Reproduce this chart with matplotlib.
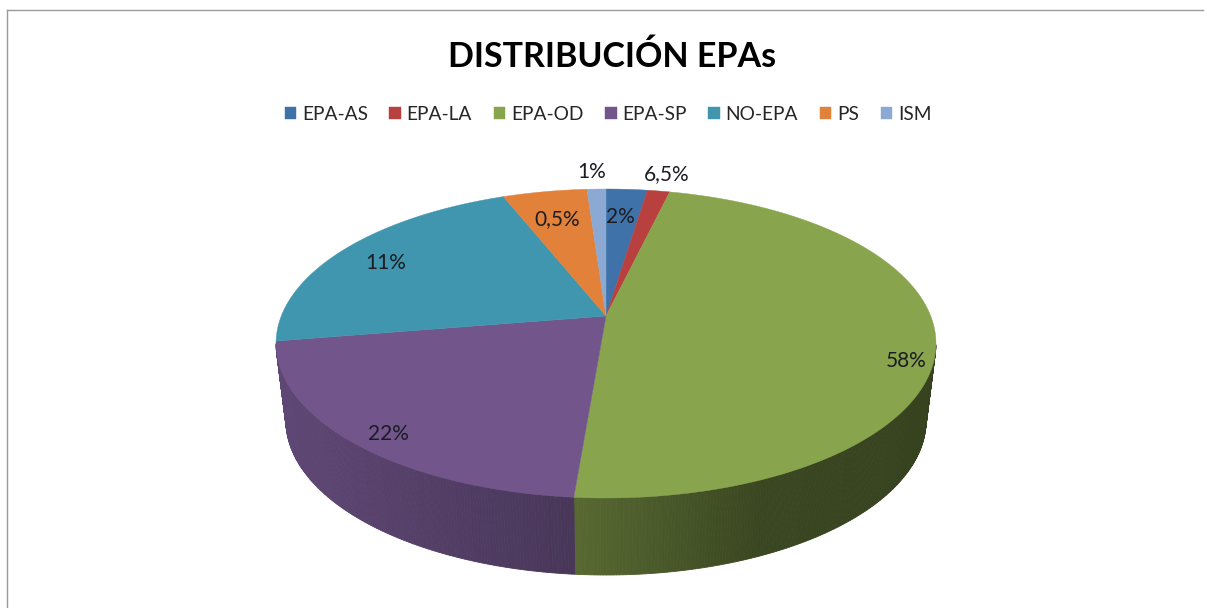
from matplotlib import pyplot as plt
import numpy as np

categories = ['EPA-AS', 'EPA-LA', 'EPA-OD', 'EPA-SP', 'NO-EPA', 'PS', 'ISM']
slice_values = [2.4, 1.3, 47.6, 21.1, 21.6, 4.9, 1.1]
value_labels = ['2%', '6,5%', '58%', '22%', '11%', '0,5%', '1%']
colors = ['#3f72a8', '#b8403e', '#88a44d', '#71558b', '#3f96ae', '#e2813a', '#8ba9d2']

# donde va cada etiqueta (pixeles)
label_pos = [(620, 217), (667, 174), (906, 361), (388, 434), (386, 263), (557, 219), (592, 172)]

plt.rcParams['font.family'] = ['Lato', 'DejaVu Sans']

W, H_IMG = 1207, 608
fig = plt.figure(figsize=(W / 100, H_IMG / 100), dpi=100)
ax = fig.add_axes([0, 0, 1, 1])
ax.set_xlim(0, W)
ax.set_ylim(H_IMG, 0)
ax.axis('off')

# circulo -> elipse con perspectiva, el vertice queda por encima del centro
CX, CY = 606, 316
R, HH, K = 324.7, 149.6, 0.178
DEPTH = 77
BOTTOM_SCALE = 0.97


def project(theta, scale=1.0, dy=0.0):
    # theta en radianes, sentido horario desde las 12
    x = np.sin(theta)
    y = np.cos(theta)
    w = 1 + K * y
    return CX + scale * R * x / w, CY + dy - HH * y / w


def shade(color, f):
    c = np.array(plt.matplotlib.colors.to_rgb(color))
    return tuple(c * f)


edges = np.concatenate([[0], np.cumsum(slice_values)]) / np.sum(slice_values) * 2 * np.pi

# pared lateral, por tiras para el degradado
for i in range(len(slice_values)):
    th = np.linspace(edges[i], edges[i + 1], max(int((edges[i + 1] - edges[i]) * 120), 2))
    for a, b in zip(th[:-1], th[1:]):
        if np.cos(a) > -0.18:
            continue
        x1, y1 = project(a)
        x2, y2 = project(b)
        x3, y3 = project(b, BOTTOM_SCALE, DEPTH)
        x4, y4 = project(a, BOTTOM_SCALE, DEPTH)
        f = np.interp((x1 + x2) / 2, [276, 576, 760, 936], [0.84, 0.64, 0.43, 0.40])
        col = shade(colors[i], f)
        ax.fill([x1, x2, x3, x4], [y1, y2, y3, y4], color=col, lw=0.6)

# cara superior
handles = []
for i in range(len(slice_values)):
    th = np.linspace(edges[i], edges[i + 1], 200)
    px, py = project(th)
    patch = ax.fill(np.r_[CX, px], np.r_[CY, py], color=colors[i], lw=0.3)[0]
    handles.append(patch)

for txt, (lx, ly) in zip(value_labels, label_pos):
    ax.text(lx, ly, txt, ha='center', va='center', fontsize=15, color='#1c1c22')

ax.text(612, 57, 'DISTRIBUCIÓN EPAs', ha='center', va='center', fontsize=24.5,
        fontweight='bold', color='black')

ax.legend(handles, categories, ncol=7, loc='center', bbox_to_anchor=(608 / W, 1 - 114 / H_IMG),
          frameon=False, fontsize=13.8, handlelength=0.6, handleheight=0.6,
          columnspacing=1.13, handletextpad=0.3, labelcolor='#262626')

# marco del grafico
ax.plot([7, 7], [608, 10], color='#9a9a9a', lw=1)
ax.plot([7, 1203], [10, 10], color='#9a9a9a', lw=1)

fig.savefig('out.png', dpi=100)
